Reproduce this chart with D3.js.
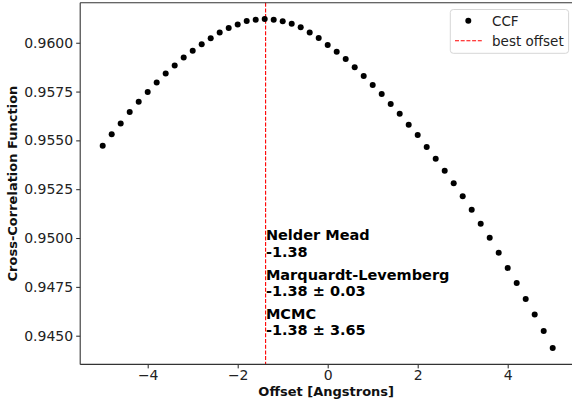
<!DOCTYPE html>
<html>
<head>
<meta charset="utf-8">
<script src="https://cdn.jsdelivr.net/npm/d3@7"></script>
<style>
  html, body { margin: 0; padding: 0; background: #fff; }
  svg { display: block; font-family: "DejaVu Sans", sans-serif; }
</style>
</head>
<body>
<svg id="chart" width="572" height="406"></svg>
<script>
// ---- data ----
const offsets = [-5.0,-4.8,-4.6,-4.4,-4.2,-4.0,-3.8,-3.6,-3.4,-3.2,-3.0,-2.8,-2.6,-2.4,-2.2,-2.0,-1.8,-1.6,-1.4,-1.2,-1.0,-0.8,-0.6,-0.4,-0.2,0.0,0.2,0.4,0.6,0.8,1.0,1.2,1.4,1.6,1.8,2.0,2.2,2.4,2.6,2.8,3.0,3.2,3.4,3.6,3.8,4.0,4.2,4.4,4.6,4.8,5.0];
const ccf = [0.95473,0.95531,0.95587,0.95645,0.95698,0.95748,0.95797,0.95843,0.95884,0.95925,0.95959,0.95992,0.96023,0.96053,0.96075,0.96094,0.96111,0.96118,0.96121,0.96118,0.96110,0.96097,0.96079,0.96053,0.96024,0.95988,0.95954,0.95917,0.95874,0.95830,0.95783,0.95737,0.95686,0.95637,0.95580,0.95527,0.95466,0.95406,0.95345,0.95280,0.95214,0.95145,0.95073,0.95002,0.94925,0.94847,0.94770,0.94688,0.94608,0.94524,0.94437];
const xTicks = [-4, -2, 0, 2, 4];
const yTicks = [0.9450, 0.9475, 0.9500, 0.9525, 0.9550, 0.9575, 0.9600];
const bestOffset = -1.38;
const methods = ["Nelder Mead", "Marquardt-Levemberg", "MCMC"];
const results = ["-1.38", "-1.38 \u00b1 0.03", "-1.38 \u00b1 3.65"];
const legendLabels = ["CCF", "best offset"];
const xLabel = "Offset [Angstrons]";
const yLabel = "Cross-Correlation Function";

// ---- layout ----
const svg = d3.select("#chart");
const plot = { left: 80.2, right: 575.2, top: 2.7, bottom: 364.4 };

const x = d3.scaleLinear().domain([-5.5, 5.5]).range([plot.left, plot.right]);
const y = d3.scaleLinear().domain([0.94353, 0.96205]).range([plot.bottom, plot.top]);

// best offset line
svg.append("line")
  .attr("x1", x(bestOffset)).attr("x2", x(bestOffset))
  .attr("y1", plot.top).attr("y2", plot.bottom)
  .attr("stroke", "#ff0000").attr("stroke-width", 1.1)
  .attr("stroke-dasharray", "4,1.7");

// points
svg.append("g").selectAll("circle")
  .data(offsets.map((o, i) => [o, ccf[i]]))
  .join("circle")
  .attr("cx", d => x(d[0]))
  .attr("cy", d => y(d[1]))
  .attr("r", 3)
  .attr("fill", "#000");

// axes
const fmtX = d => (d < 0 ? "\u2212" + Math.abs(d) : String(d));
const xAxis = svg.append("g")
  .attr("transform", `translate(0,${plot.bottom})`)
  .call(d3.axisBottom(x).tickValues(xTicks).tickFormat(fmtX).tickSize(4).tickPadding(2).tickSizeOuter(0));
const yAxis = svg.append("g")
  .attr("transform", `translate(${plot.left},0)`)
  .call(d3.axisLeft(y).tickValues(yTicks).tickFormat(d3.format(".4f")).tickSize(4).tickPadding(3).tickSizeOuter(0));

[xAxis, yAxis].forEach(g => {
  g.select(".domain").remove();
  g.selectAll(".tick line").attr("stroke", "#222").attr("stroke-width", 1);
  g.selectAll(".tick text").attr("font-size", "14px").attr("fill", "#222")
    .attr("font-family", "DejaVu Sans, sans-serif");
});

// spines
const spine = (x1, y1, x2, y2) => svg.append("line")
  .attr("x1", x1).attr("y1", y1).attr("x2", x2).attr("y2", y2)
  .attr("stroke", "#333").attr("stroke-width", 1.1);
spine(plot.left, plot.top, plot.left, plot.bottom);
spine(plot.left, plot.bottom, plot.right, plot.bottom);
spine(plot.left, plot.top, plot.right, plot.top);
spine(plot.right, plot.top, plot.right, plot.bottom);

// axis labels
svg.append("text")
  .attr("x", (plot.left + plot.right) / 2 - 1.5).attr("y", 396)
  .attr("text-anchor", "middle").attr("font-weight", "bold").attr("font-size", "13px")
  .attr("fill", "#111")
  .text(xLabel);
svg.append("text")
  .attr("transform", `translate(17,${(plot.top + plot.bottom) / 2}) rotate(-90)`)
  .attr("text-anchor", "middle").attr("font-weight", "bold").attr("font-size", "13px")
  .attr("fill", "#111")
  .text(yLabel);

// annotations
const annX = x(bestOffset) + 0.3;
methods.forEach((m, i) => {
  const base = 240.3 + i * 39.2;
  const t = svg.append("text").attr("font-weight", "bold").attr("font-size", "14.5px").attr("fill", "#000");
  t.append("tspan").attr("x", annX).attr("y", base).text(m);
  t.append("tspan").attr("x", annX).attr("y", base + 16.7).text(results[i]);
});

// legend
const lg = svg.append("g");
lg.append("rect")
  .attr("x", 450.3).attr("y", 9.5).attr("width", 118.3).attr("height", 43.8)
  .attr("rx", 3).attr("fill", "#fff").attr("fill-opacity", 0.8)
  .attr("stroke", "#d6d6d6").attr("stroke-width", 1);
lg.append("circle").attr("cx", 468.3).attr("cy", 20.7).attr("r", 3).attr("fill", "#000");
lg.append("line")
  .attr("x1", 455).attr("x2", 482).attr("y1", 40.7).attr("y2", 40.7)
  .attr("stroke", "#ff0000").attr("stroke-width", 1.1).attr("stroke-dasharray", "4,1.7");
legendLabels.forEach((l, i) => {
  lg.append("text")
    .attr("x", 492).attr("y", 25.5 + i * 20)
    .attr("font-size", "13.5px").attr("fill", "#222")
    .text(l);
});
</script>
</body>
</html>
